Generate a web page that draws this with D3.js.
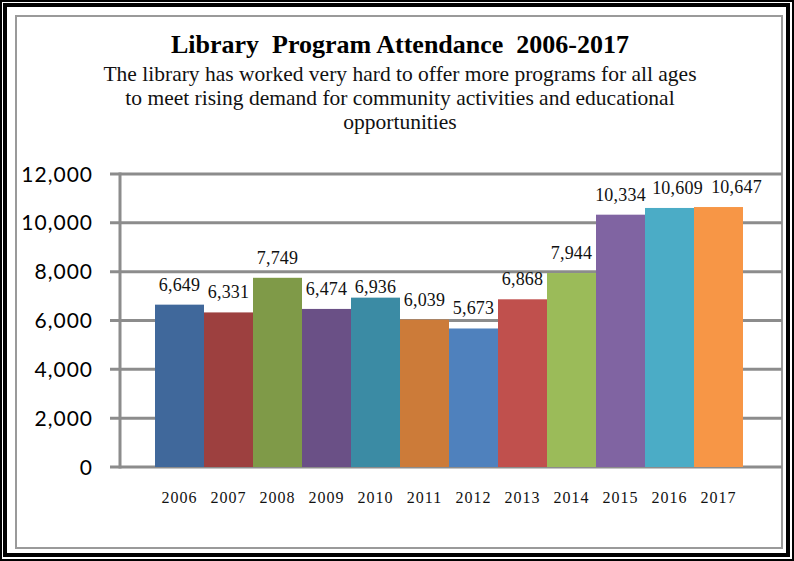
<!DOCTYPE html>
<html>
<head>
<meta charset="utf-8">
<script src="https://cdn.jsdelivr.net/npm/d3@7"></script>
<style>
  body { margin: 0; background: #fff; }
  svg { display: block; }
</style>
</head>
<body>
<script>
const width = 794;
const height = 561;

const years = ["2006", "2007", "2008", "2009", "2010", "2011", "2012", "2013", "2014", "2015", "2016", "2017"];
const attendance = [6649, 6331, 7749, 6474, 6936, 6039, 5673, 6868, 7944, 10334, 10609, 10647];
const barColors = ["#40689b", "#9d403f", "#7f9a48", "#6a5086", "#3b8ba4", "#cc7b39", "#4f81bd", "#c0504d", "#9bbb59", "#8064a2", "#4bacc6", "#f79646"];
const yTicks = [0, 2000, 4000, 6000, 8000, 10000, 12000];
const title = "Library  Program Attendance  2006-2017";
const subtitle = ["The library has worked very hard to offer more programs for all ages",
  "to meet rising demand for community activities and educational",
  "opportunities"];

// labels that excel nudged so they don't collide
const labelNudge = { "2010": [0, 9], "2016": [8, 0], "2017": [18, 0] };

const serif = "'Liberation Serif', 'Times New Roman', serif";

const svg = d3.select("body")
  .append("svg")
  .attr("width", width)
  .attr("height", height);

// frame
svg.append("rect").attr("x", 1).attr("y", 1).attr("width", 792).attr("height", 559)
  .attr("fill", "none").attr("stroke", "#000").attr("stroke-width", 2);
svg.append("rect").attr("x", 5).attr("y", 5).attr("width", 783).attr("height", 550)
  .attr("fill", "none").attr("stroke", "#000").attr("stroke-width", 4);
svg.append("rect").attr("x", 16).attr("y", 16).attr("width", 766).attr("height", 532)
  .attr("fill", "none").attr("stroke", "#9a9a9a").attr("stroke-width", 2);

const x = d3.scaleBand()
  .domain(years)
  .range([155, 743])
  .padding(0);

const y = d3.scaleLinear()
  .domain([0, 12000])
  .range([467, 174]);

// gridlines
svg.append("g")
  .selectAll("line")
  .data(yTicks)
  .enter()
  .append("line")
  .attr("x1", 110)
  .attr("x2", 782)
  .attr("y1", (d) => y(d))
  .attr("y2", (d) => y(d))
  .attr("stroke", "#8c8c8c")
  .attr("stroke-width", 3);

// y axis line
svg.append("line")
  .attr("x1", 120).attr("x2", 120)
  .attr("y1", y(12000) - 1.5).attr("y2", y(0) + 1.5)
  .attr("stroke", "#8c8c8c")
  .attr("stroke-width", 3);

svg.append("g")
  .selectAll("text")
  .data(yTicks)
  .enter()
  .append("text")
  .attr("x", 93)
  .attr("y", (d) => y(d))
  .attr("dy", "0.36em")
  .attr("text-anchor", "end")
  .attr("font-family", "Lato, 'Open Sans', sans-serif")
  .attr("font-size", 21)
  .attr("letter-spacing", 1)
  .attr("fill", "#000")
  .text((d) => d3.format(",")(d));

// bars
svg.append("g")
  .selectAll("rect")
  .data(attendance)
  .enter()
  .append("rect")
  .attr("x", (d, i) => x(years[i]))
  .attr("y", (d) => y(d))
  .attr("width", x.bandwidth())
  .attr("height", (d) => y(0) - y(d))
  .attr("fill", (d, i) => barColors[i]);

// value labels
svg.append("g")
  .selectAll("text")
  .data(attendance)
  .enter()
  .append("text")
  .attr("x", (d, i) => x(years[i]) + x.bandwidth() / 2 + (labelNudge[years[i]] || [0, 0])[0])
  .attr("y", (d, i) => y(d) - 14 + (labelNudge[years[i]] || [0, 0])[1])
  .attr("text-anchor", "middle")
  .attr("font-family", serif)
  .attr("font-size", 18)
  .attr("letter-spacing", 0.2)
  .attr("fill", "#111")
  .text((d) => d3.format(",")(d));

// x labels
svg.append("g")
  .selectAll("text")
  .data(years)
  .enter()
  .append("text")
  .attr("x", (d) => x(d) + x.bandwidth() / 2)
  .attr("y", 503)
  .attr("text-anchor", "middle")
  .attr("font-family", serif)
  .attr("font-size", 16)
  .attr("letter-spacing", 1)
  .attr("fill", "#111")
  .text((d) => d);

// titles
svg.append("text")
  .attr("x", 400)
  .attr("y", 53)
  .attr("text-anchor", "middle")
  .attr("font-family", serif)
  .attr("font-weight", "bold")
  .attr("font-size", 26)
  .style("white-space", "pre")
  .text(title);

svg.append("g")
  .selectAll("text")
  .data(subtitle)
  .enter()
  .append("text")
  .attr("x", 400)
  .attr("y", (d, i) => 81 + i * 24)
  .attr("text-anchor", "middle")
  .attr("font-family", serif)
  .attr("font-size", 21.5)
  .attr("fill", "#111")
  .text((d) => d);
</script>
</body>
</html>
